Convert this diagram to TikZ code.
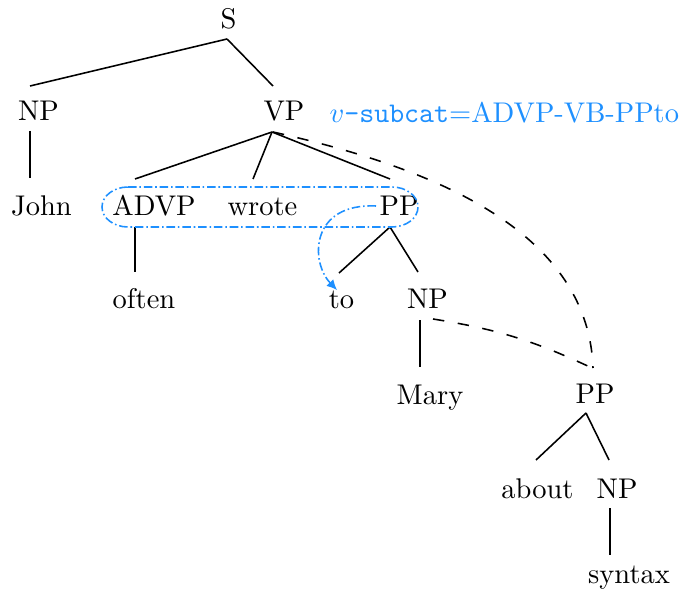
\documentclass[tikz,border=0pt]{standalone}
\usetikzlibrary{calc,arrows.meta}
\definecolor{tagblue}{RGB}{30,144,255}
\tikzset{
  tn/.style={inner sep=0pt, anchor=base},
  br/.style={line width=0.55pt},
  link/.style={line width=0.55pt, dash pattern=on 4pt off 4.8pt},
  grp/.style={draw=tagblue, line width=0.55pt, densely dashdotted},
  ptr/.style={draw=tagblue, line width=0.55pt, densely dashdotted, -{Latex[length=3.6pt,width=3.4pt]}},
}
\begin{document}
\begin{tikzpicture}[x=0.351pt,y=-0.351pt]
\path[use as bounding box] (0,0) rectangle (688,596);
% nodes (base points)
\node[tn] (S) at (228.5,29) {S};
\node[tn] (NPa) at (38.5,121) {NP};
\node[tn] (VP) at (284,121) {VP};
\node[tn] (John) at (41.5,216) {John};
\node[tn] (ADVP) at (154,216) {ADVP};
\node[tn] (wrote) at (262.5,216) {wrote};
\node[tn] (PPa) at (399,216) {PP};
\node[tn] (often) at (144,308) {often};
\node[tn] (to) at (341.5,308) {to};
\node[tn] (NPb) at (427.5,308) {NP};
\node[tn] (Mary) at (430,404) {Mary};
\node[tn] (PPb) at (595,403) {PP};
\node[tn] (about) at (537.5,498) {about};
\node[tn] (NPc) at (617,498) {NP};
\node[tn] (syntax) at (629,583) {syntax};
\node[tn, anchor=base west, text=tagblue] (lab) at (329,123) {$v$\texttt{-subcat}$=$ADVP-VB-PPto};
% tree edges
\draw[br] ($(S.base)+(-1.5,10)$) -- ($(NPa.base)+(-8.5,-35)$);
\draw[br] ($(S.base)+(-1.5,10)$) -- ($(VP.base)+(-11,-35)$);
\draw[br] ($(NPa.base)+(-8.5,10)$) -- ($(John.base)+(-11.5,-38)$);
\draw[br] ($(VP.base)+(-12,11)$) -- ($(ADVP.base)+(-19,-37)$);
\draw[br] ($(VP.base)+(-12,11)$) -- ($(wrote.base)+(-9.5,-37)$);
\draw[br] ($(VP.base)+(-12,11)$) -- ($(PPa.base)+(-9,-37)$);
\draw[br] ($(ADVP.base)+(-19,11)$) -- ($(often.base)+(-9,-36)$);
\draw[br] ($(PPa.base)+(-9,11)$) -- ($(to.base)+(-2.5,-35)$);
\draw[br] ($(PPa.base)+(-9,11)$) -- ($(NPb.base)+(-9.5,-36)$);
\draw[br] ($(NPb.base)+(-7.5,12)$) -- ($(Mary.base)+(-10,-37)$);
\draw[br] ($(PPb.base)+(-9,10)$) -- ($(about.base)+(-1.5,-38)$);
\draw[br] ($(PPb.base)+(-9,10)$) -- ($(NPc.base)+(-8,-38)$);
\draw[br] ($(NPc.base)+(-7,10)$) -- ($(syntax.base)+(-19,-28)$);
% dashed links
\draw[link] ($(VP.base)+(-11,11)$) .. controls +(147,33) and +(-5,-143) .. ($(PPb.base)+(-2,-35)$);
\draw[link] ($(NPb.base)+(5.5,11)$) to[bend left=8] ($(PPb.base)+(-3,-35)$);
% blue group and pointer
\draw[grp] ($(ADVP.base)+(-26,-29)$) -- ($(PPa.base)+(-7,-29)$)
  arc[start angle=-90, end angle=90, x radius=26, y radius=20]
  -- ($(ADVP.base)+(-26,11)$)
  arc[start angle=90, end angle=270, x radius=26, y radius=20] -- cycle;
\draw[ptr] ($(PPa.base)+(-23,-10)$) .. controls +(-66,-3) and +(-27,-28) .. ($(to.base)+(-4.5,-18)$);
\end{tikzpicture}
\end{document}
